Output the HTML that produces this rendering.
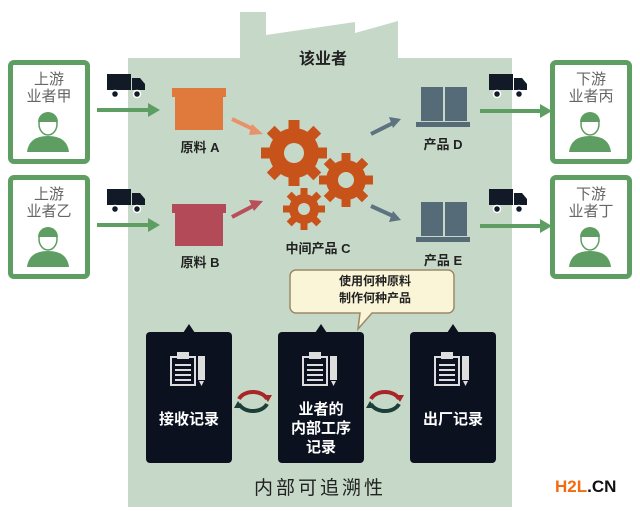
<!DOCTYPE html>
<html><head><meta charset="utf-8"><style>
body{margin:0;width:640px;height:511px;background:#fff;position:relative;overflow:hidden;font-family:"Liberation Sans","Noto Sans CJK SC",sans-serif}
.a{position:absolute}
.sup{position:absolute;width:72px;height:94px;border:5px solid #5e9e62;border-radius:6px;background:#fff;text-align:center;color:#666;font-size:15px;line-height:17px}
.lbl{position:absolute;font-size:13px;font-weight:bold;color:#222;text-align:center}
.panel{position:absolute;background:#0c1120;border-radius:4px;width:86px;height:131px;color:#fff;text-align:center;font-size:15px;font-weight:bold;line-height:19px}
</style></head><body>
<svg class="a" style="left:0;top:0" width="640" height="511">
<polygon points="128,58 240,58 240,12 266,12 266,35 355,22 355,33 398,21 398,58 512,58 512,507 128,507" fill="#c6d9c8"/>
<g stroke="#5e9e62" stroke-width="4" fill="#5e9e62">
<line x1="97" y1="110" x2="150" y2="110"/><polygon points="148,103 160,110 148,117" stroke="none"/>
<line x1="97" y1="225" x2="150" y2="225"/><polygon points="148,218 160,225 148,232" stroke="none"/>
<line x1="480" y1="111" x2="544" y2="111"/><polygon points="540,104 552,111 540,118" stroke="none"/>
<line x1="480" y1="226" x2="544" y2="226"/><polygon points="540,219 552,226 540,233" stroke="none"/>
</g>
<g fill="#111a26">
<g transform="translate(107,74)"><rect x="0" y="0" width="24" height="16"/><path d="M25,4 h8 l5,6 v6 h-13z"/><circle cx="8" cy="20" r="3.5" stroke="#fff" stroke-width="1.5"/><circle cx="30" cy="20" r="3.5" stroke="#fff" stroke-width="1.5"/></g>
<g transform="translate(107,189)"><rect x="0" y="0" width="24" height="16"/><path d="M25,4 h8 l5,6 v6 h-13z"/><circle cx="8" cy="20" r="3.5" stroke="#fff" stroke-width="1.5"/><circle cx="30" cy="20" r="3.5" stroke="#fff" stroke-width="1.5"/></g>
<g transform="translate(489,74)"><rect x="0" y="0" width="24" height="16"/><path d="M25,4 h8 l5,6 v6 h-13z"/><circle cx="8" cy="20" r="3.5" stroke="#fff" stroke-width="1.5"/><circle cx="30" cy="20" r="3.5" stroke="#fff" stroke-width="1.5"/></g>
<g transform="translate(489,189)"><rect x="0" y="0" width="24" height="16"/><path d="M25,4 h8 l5,6 v6 h-13z"/><circle cx="8" cy="20" r="3.5" stroke="#fff" stroke-width="1.5"/><circle cx="30" cy="20" r="3.5" stroke="#fff" stroke-width="1.5"/></g>
</g>
<rect x="172" y="88" width="54" height="9" fill="#e07a3c"/><rect x="175" y="97" width="48" height="33" fill="#e07a3c"/>
<rect x="172" y="204" width="54" height="9" fill="#b24a58"/><rect x="175" y="213" width="48" height="33" fill="#b24a58"/>
<g fill="#566b78"><rect x="421" y="87" width="22" height="34"/><rect x="445" y="87" width="22" height="34"/><rect x="416" y="122" width="54" height="5"/>
<rect x="421" y="202" width="22" height="34"/><rect x="445" y="202" width="22" height="34"/><rect x="416" y="237" width="54" height="5"/></g>
<g stroke-width="4">
<line x1="232" y1="119" x2="255" y2="130" stroke="#e8926a"/><polygon points="252,124 263,134 249,135" fill="#e8926a"/>
<line x1="232" y1="217" x2="255" y2="205" stroke="#b8505a"/><polygon points="249,200 263,201 254,211" fill="#b8505a"/>
<line x1="371" y1="134" x2="393" y2="123" stroke="#5d7480"/><polygon points="389,117 401,119 393,128" fill="#5d7480"/>
<line x1="371" y1="206" x2="393" y2="216" stroke="#5d7480"/><polygon points="389,222 401,220 393,211" fill="#5d7480"/>
</g>
<g fill="#c8531a">
<g transform="translate(294,153)"><circle r="25"/><rect x="-5.5" y="-33" width="11" height="66"/><rect x="-5.5" y="-33" width="11" height="66" transform="rotate(45)"/><rect x="-5.5" y="-33" width="11" height="66" transform="rotate(90)"/><rect x="-5.5" y="-33" width="11" height="66" transform="rotate(135)"/><circle r="10" fill="#c6d9c8"/></g>
<g transform="translate(346,180)"><circle r="20"/><rect x="-4.5" y="-27" width="9" height="54"/><rect x="-4.5" y="-27" width="9" height="54" transform="rotate(45)"/><rect x="-4.5" y="-27" width="9" height="54" transform="rotate(90)"/><rect x="-4.5" y="-27" width="9" height="54" transform="rotate(135)"/><circle r="8" fill="#c6d9c8"/></g>
<g transform="translate(304,209)"><circle r="15"/><rect x="-3.5" y="-21" width="7" height="42"/><rect x="-3.5" y="-21" width="7" height="42" transform="rotate(45)"/><rect x="-3.5" y="-21" width="7" height="42" transform="rotate(90)"/><rect x="-3.5" y="-21" width="7" height="42" transform="rotate(135)"/><circle r="6" fill="#c6d9c8"/></g>
</g>
<path d="M296,270 h152 a6,6 0 0 1 6,6 v31 a6,6 0 0 1 -6,6 h-76 l-14,16 l2,-16 h-64 a6,6 0 0 1 -6,-6 v-31 a6,6 0 0 1 6,-6z" fill="#fbf5d8" stroke="#9a8a68" stroke-width="1.5"/>
<g fill="#0c1120"><polygon points="183,333 189,324 195,333"/><polygon points="315,333 321,324 327,333"/><polygon points="447,333 453,324 459,333"/></g>
<g fill="none" stroke-width="4">
<path d="M239,399 a15,11 0 0 1 28,0" stroke="#a8262a"/><path d="M267,404 a15,11 0 0 1 -28,0" stroke="#1d3e38"/>
<path d="M371,399 a15,11 0 0 1 28,0" stroke="#a8262a"/><path d="M399,404 a15,11 0 0 1 -28,0" stroke="#1d3e38"/>
</g>
<g><polygon points="263,395 272,395 268,402" fill="#a8262a"/><polygon points="243,408 234,408 238,401" fill="#1d3e38"/>
<polygon points="395,395 404,395 400,402" fill="#a8262a"/><polygon points="375,408 366,408 370,401" fill="#1d3e38"/></g>
</svg>
<div class="sup" style="left:8px;top:60px"><div style="margin-top:6px">上游<br>业者甲</div></div>
<div class="sup" style="left:8px;top:175px"><div style="margin-top:6px">上游<br>业者乙</div></div>
<div class="sup" style="left:550px;top:60px"><div style="margin-top:6px">下游<br>业者丙</div></div>
<div class="sup" style="left:550px;top:175px"><div style="margin-top:6px">下游<br>业者丁</div></div>
<div class="lbl" style="left:268px;top:45px;width:110px;font-size:16px">该业者</div>
<div class="lbl" style="left:160px;top:137px;width:80px">原料 A</div>
<div class="lbl" style="left:160px;top:252px;width:80px">原料 B</div>
<div class="lbl" style="left:403px;top:134px;width:80px">产品 D</div>
<div class="lbl" style="left:403px;top:250px;width:80px">产品 E</div>
<div class="lbl" style="left:268px;top:238px;width:100px">中间产品 C</div>
<div class="lbl" style="left:296px;top:273px;width:158px;font-size:12px;line-height:17px">使用何种原料<br>制作何种产品</div>
<div class="panel" style="left:146px;top:332px"><div style="margin-top:78px">接收记录</div></div>
<div class="panel" style="left:278px;top:332px"><div style="margin-top:68px">业者的<br>内部工序<br>记录</div></div>
<div class="panel" style="left:410px;top:332px"><div style="margin-top:78px">出厂记录</div></div>
<div class="lbl" style="left:220px;top:473px;width:200px;font-size:19px;font-weight:normal;letter-spacing:3px">内部可追溯性</div>
<div class="a" style="left:555px;top:477px;font-size:17px;font-weight:bold;font-family:'Liberation Sans',sans-serif"><span style="color:#f26b10">H2L</span><span style="color:#111">.CN</span></div>
<svg class="a" style="left:0;top:0" width="640" height="511">
<g fill="#5e9e62">
<g id="pp" transform="translate(48,124)"><path d="M-21,28 q2,-16 21,-16 q19,0 21,16z"/><ellipse cx="0" cy="0" rx="9" ry="11" fill="#fff" stroke="#5e9e62" stroke-width="1.5"/><path d="M-10,-2 a10,10 0 0 1 20,0 z"/></g>
<use href="#pp" x="0" y="115"/><use href="#pp" x="542" y="0"/><use href="#pp" x="542" y="115"/>
</g>
<g id="clip" fill="none" stroke="#ddd" stroke-width="2">
<rect x="171" y="357" width="24" height="28"/><rect x="178" y="353" width="10" height="5" fill="#ddd"/>
<line x1="175" y1="365" x2="191" y2="365"/><line x1="175" y1="370" x2="191" y2="370"/><line x1="175" y1="375" x2="191" y2="375"/><line x1="175" y1="380" x2="191" y2="380"/>
<rect x="199" y="357" width="5" height="22" fill="#ddd"/><polygon points="199,381 204,381 201.5,386" fill="#ddd" stroke="none"/>
</g>
<use href="#clip" x="132"/><use href="#clip" x="264"/>
</svg>
</body></html>
